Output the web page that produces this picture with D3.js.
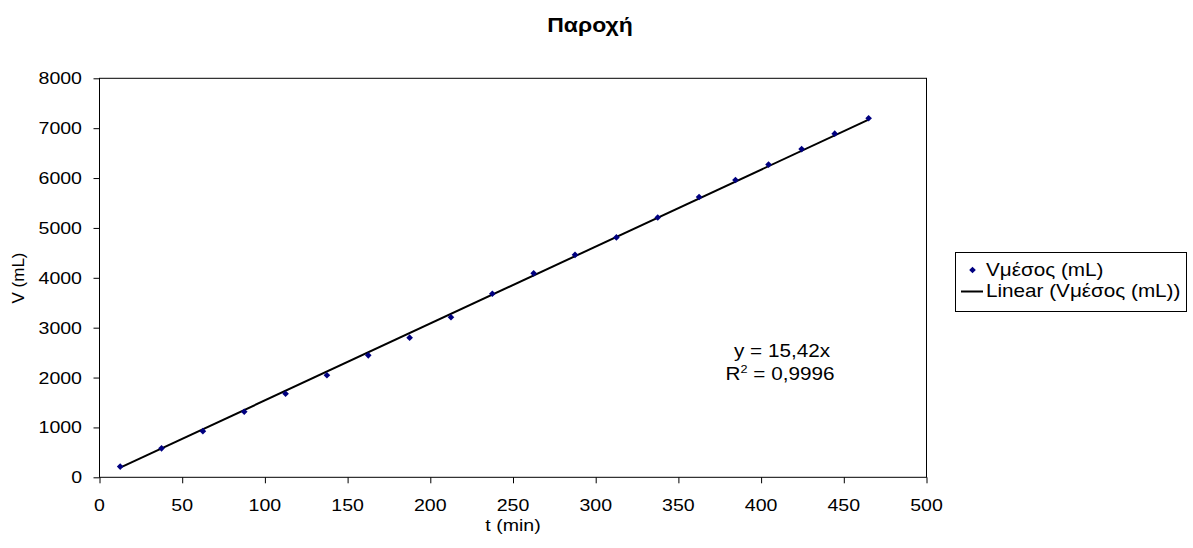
<!DOCTYPE html>
<html>
<head>
<meta charset="utf-8">
<script src="https://cdn.jsdelivr.net/npm/d3@7"></script>
<style>
  body { margin: 0; background: #fff; }
  svg { display: block; font-family: "Liberation Sans", Arial, sans-serif; }
</style>
</head>
<body>
<svg id="chart" width="1193" height="548"></svg>
<script>
// data
const tMin = [12.5, 37.5, 62.5, 87.5, 112.5, 137.5, 162.5, 187.5, 212.5, 237.5,
  262.5, 287.5, 312.5, 337.5, 362.5, 384.5, 404.5, 424.5, 444.5, 465];
const vMean = [215, 580, 925, 1315, 1675, 2045, 2445, 2800, 3210, 3680,
  4090, 4460, 4810, 5210, 5620, 5960, 6270, 6580, 6890, 7200];
const xTicks = [0, 50, 100, 150, 200, 250, 300, 350, 400, 450, 500];
const yTicks = [0, 1000, 2000, 3000, 4000, 5000, 6000, 7000, 8000];
const slope = 15.42;
const eqText = 'y = 15,42x';
const r2Text = ' = 0,9996';
const seriesName = 'Vμέσος (mL)';
const trendName = 'Linear (Vμέσος (mL))';

const svg = d3.select('#chart');
const stretch = 1.15;
const fs = 18;

// text with a slight horizontal stretch like the source bitmap
function stext(parent, x, y, str, anchor, size, weight) {
  const g = parent.append('g')
    .attr('transform', `translate(${x},${y}) scale(${stretch},1)`);
  return g.append('text')
    .text(str)
    .attr('text-anchor', anchor || 'start')
    .attr('font-size', size || fs)
    .attr('font-weight', weight || 'normal')
    .attr('fill', '#000');
}

const margin = { left: 99.5, top: 78.3, right: 926.5, bottom: 477.3 };

const x = d3.scaleLinear().domain([0, 500]).range([margin.left, margin.right]);
const y = d3.scaleLinear().domain([0, 8000]).range([margin.bottom, margin.top]);

// title
stext(svg, 590, 32, 'Παροχή', 'middle', 20, 'bold');

// plot frame
svg.append('rect')
  .attr('x', x(0)).attr('y', y(8000))
  .attr('width', x(500) - x(0)).attr('height', y(0) - y(8000))
  .attr('fill', 'none').attr('stroke', '#000').attr('stroke-width', 1);

// x axis
const xAxis = d3.axisBottom(x).tickValues(xTicks).tickSize(6).tickFormat('');
const xAxisG = svg.append('g').attr('transform', `translate(0,${y(0)})`).call(xAxis);
xAxisG.select('.domain').remove();
xAxisG.selectAll('line').attr('stroke', '#000');
xTicks.forEach(d => stext(svg, x(d), 511, d, 'middle', 17));

// y axis
const yAxis = d3.axisLeft(y).tickValues(yTicks).tickSize(6).tickFormat('');
const yAxisG = svg.append('g').attr('transform', `translate(${x(0)},0)`).call(yAxis);
yAxisG.select('.domain').remove();
yAxisG.selectAll('line').attr('stroke', '#000');
yTicks.forEach(d => stext(svg, 82, y(d) + 6, d, 'end', 17));

// axis titles
stext(svg, x(250), 531, 't (min)', 'middle', 17);
svg.append('text')
  .text('V (mL)')
  .attr('font-size', 17)
  .attr('text-anchor', 'middle')
  .attr('transform', `translate(24,278) rotate(-90)`);

// trendline
const tExtent = d3.extent(tMin);
svg.append('line')
  .attr('x1', x(tExtent[0])).attr('y1', y(slope * tExtent[0]))
  .attr('x2', x(tExtent[1])).attr('y2', y(slope * tExtent[1]))
  .attr('stroke', '#000').attr('stroke-width', 2);

// points
const diamond = d3.symbol().type(d3.symbolDiamond2).size(28);
svg.append('g')
  .selectAll('path')
  .data(tMin.map((t, i) => ({ t, v: vMean[i] })))
  .enter()
  .append('path')
  .attr('d', diamond)
  .attr('transform', d => `translate(${x(d.t)},${y(d.v)})`)
  .attr('fill', '#000080');

// equation label
stext(svg, 782, 357, eqText, 'middle');
const r2 = stext(svg, 780, 380, 'R', 'middle');
r2.text(null);
r2.append('tspan').text('R');
r2.append('tspan').text('2').attr('font-size', 11).attr('dy', -7);
r2.append('tspan').text(r2Text).attr('dy', 7);

// legend
const legend = svg.append('g');
legend.append('rect')
  .attr('x', 955.5).attr('y', 252.5).attr('width', 231).attr('height', 59)
  .attr('fill', '#fff').attr('stroke', '#000');
legend.append('path')
  .attr('d', diamond)
  .attr('transform', 'translate(972.5,270)')
  .attr('fill', '#000080');
stext(legend, 986, 276, seriesName, 'start');
legend.append('line')
  .attr('x1', 961).attr('x2', 983).attr('y1', 291.5).attr('y2', 291.5)
  .attr('stroke', '#000').attr('stroke-width', 2);
stext(legend, 986, 297, trendName, 'start');
</script>
</body>
</html>
